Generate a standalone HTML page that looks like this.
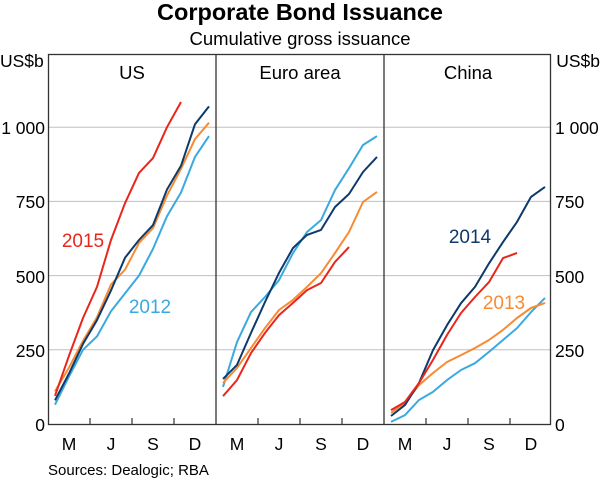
<!DOCTYPE html>
<html><head><meta charset="utf-8"><style>
html,body{margin:0;padding:0;background:#fff;}
svg{display:block;font-family:"Liberation Sans",Arial,sans-serif;}
</style></head><body>
<svg id="s" width="600" height="481" viewBox="0 0 600 481" xmlns="http://www.w3.org/2000/svg">
<text x="300" y="20" text-anchor="middle" font-size="23.5" font-weight="bold" fill="#000">Corporate Bond Issuance</text>
<text x="300" y="45" text-anchor="middle" font-size="18.5" fill="#000">Cumulative gross issuance</text>
<g stroke="#c0c0c0" stroke-width="1">
<line x1="48" x2="551" y1="349.8" y2="349.8"/>
<line x1="48" x2="551" y1="275.6" y2="275.6"/>
<line x1="48" x2="551" y1="201.4" y2="201.4"/>
<line x1="48" x2="551" y1="127.2" y2="127.2"/>
</g>
<g id="series" fill="none" stroke-width="2" stroke-linejoin="round"></g>
<g stroke="#333" stroke-width="1.3" fill="none">
<rect x="48.5" y="54.5" width="502" height="370"/>
<line x1="216" x2="216" y1="54" y2="425"/>
<line x1="384" x2="384" y1="54" y2="425"/>
</g>
<g stroke="#333" stroke-width="1.2" id="ticks"></g>
<g font-size="17.5" fill="#000">
<text x="0" y="67">US$b</text>
<text x="600" y="67" text-anchor="end">US$b</text>
<text x="132" y="79" text-anchor="middle" font-size="18.5">US</text>
<text x="300" y="79" text-anchor="middle" font-size="18.5">Euro area</text>
<text x="468" y="79" text-anchor="middle" font-size="18.5">China</text>
<g text-anchor="end">
<text x="45" y="431">0</text>
<text x="45" y="357">250</text>
<text x="45" y="283">500</text>
<text x="45" y="208">750</text>
<text x="45" y="134">1 000</text>
</g>
<text x="555" y="431">0</text>
<text x="555" y="357">250</text>
<text x="555" y="283">500</text>
<text x="555" y="208">750</text>
<text x="555" y="134">1 000</text>
<g id="months" text-anchor="middle"></g>
</g>
<g font-size="19">
<text x="83" y="247" text-anchor="middle" fill="#e8261c">2015</text>
<text x="150" y="313" text-anchor="middle" fill="#3aa9e0">2012</text>
<text x="470" y="243" text-anchor="middle" fill="#0d3a6b">2014</text>
<text x="504" y="309" text-anchor="middle" fill="#f68b33">2013</text>
</g>
<text x="48" y="475" font-size="15" fill="#000">Sources:  Dealogic; RBA</text>
</svg>
<script>
var C={r:"#e8261c",n:"#0d3a6b",o:"#f68b33",b:"#3aa9e0"};
var D=[
[55,{b:[65,160,250,295,380,440,500,590,700,780,900,970],o:[110,190,280,360,470,520,610,660,770,860,960,1015],n:[80,170,270,350,450,560,620,670,790,870,1010,1070],r:[95,230,357,462,620,744,846,896,1000,1085]}],
[223,{b:[125,276,377,428,485,576,647,687,788,862,940,970],o:[138,189,256,323,384,418,462,508,576,647,748,782],n:[152,199,307,411,509,593,637,654,731,775,849,900],r:[94,148,239,307,367,408,451,475,546,596]}],
[391,{b:[7,30,81,108,148,182,205,243,283,323,377,425],o:[37,71,131,172,209,232,256,283,317,357,391,408],r:[47,74,138,216,300,374,428,478,559,576],n:[27,64,138,249,333,407,462,541,613,681,765,799]}]
];
var ns="http://www.w3.org/2000/svg",g=document.getElementById("series");
D.forEach(function(p){var x0=p[0];["b","o","n","r"].forEach(function(k){var v=p[1][k];if(!v)return;
var pts=v.map(function(a,i){return (x0+14*i)+","+(424-a*0.2968).toFixed(1)}).join(" ");
var e=document.createElementNS(ns,"polyline");e.setAttribute("points",pts);e.setAttribute("stroke",C[k]);g.appendChild(e);});});
var t=document.getElementById("ticks"),m=document.getElementById("months");
[48,216,384].forEach(function(x){[42,84,126].forEach(function(d){var l=document.createElementNS(ns,"line");l.setAttribute("x1",x+d);l.setAttribute("x2",x+d);l.setAttribute("y1",418);l.setAttribute("y2",424);t.appendChild(l);});
["M","J","S","D"].forEach(function(s,i){var e=document.createElementNS(ns,"text");e.setAttribute("x",x+21+42*i);e.setAttribute("y",450);e.textContent=s;m.appendChild(e);});});
</script>
</body></html>
